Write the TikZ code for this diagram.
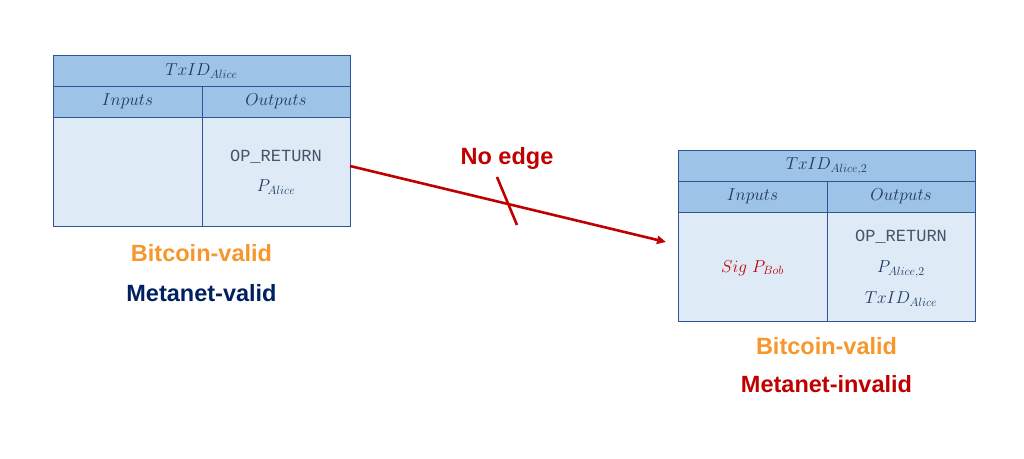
\documentclass[tikz,border=0pt]{standalone}
\usepackage{fontspec}
\newfontfamily\arialf{Liberation Sans}
\newfontfamily\courf{Liberation Mono}
\usetikzlibrary{arrows.meta}
\definecolor{hdrblue}{HTML}{9DC3E6}
\definecolor{bodyblue}{HTML}{DEEBF7}
\definecolor{bord}{HTML}{2F5597}
\definecolor{txtblue}{HTML}{1F3864}
\definecolor{optxt}{HTML}{44546A}
\definecolor{orangec}{HTML}{F7962B}
\definecolor{navyc}{HTML}{002060}
\definecolor{redc}{HTML}{C00000}
\tikzset{
  hdr/.style={fill=hdrblue, draw=bord, line width=1pt},
  bodycell/.style={fill=bodyblue, draw=bord, line width=1pt},
  mtxt/.style={text=txtblue, font=\fontsize{17}{20}\selectfont, inner sep=0pt},
  optx/.style={text=optxt, font=\courf\fontsize{17}{20}\selectfont, inner sep=0pt},
  biglab/.style={font=\arialf\bfseries\fontsize{23.5}{26}\selectfont, inner sep=0pt},
  redline/.style={draw=redc, line width=2.6pt},
}
\begin{document}
\begin{tikzpicture}[x=1pt,y=-1pt]
\useasboundingbox (0,0) rectangle (1024,458);
% left table
\draw[hdr] (53,55) rectangle (350,86);
\draw[hdr] (53,86) rectangle (202,117);
\draw[hdr] (202,86) rectangle (350,117);
\draw[bodycell] (53,117) rectangle (202,226);
\draw[bodycell] (202,117) rectangle (350,226);
\node[mtxt] (l-title) at (201.5,71) {$TxID_{Alice}$};
\node[mtxt] (l-in) at (127.5,101.5) {$Inputs$};
\node[mtxt] (l-out) at (276,101.5) {$Outputs$};
\node[optx] (l-op) at (276,157) {OP\_RETURN};
\node[mtxt] (l-p) at (276,187) {$P_{Alice}$};
\node[biglab, text=orangec] (l-bv) at (201.5,253) {Bitcoin-valid};
\node[biglab, text=navyc] (l-mv) at (201.5,293) {Metanet-valid};
% right table
\draw[hdr] (678,150) rectangle (975,181);
\draw[hdr] (678,181) rectangle (827,212);
\draw[hdr] (827,181) rectangle (975,212);
\draw[bodycell] (678,212) rectangle (827,321);
\draw[bodycell] (827,212) rectangle (975,321);
\node[mtxt] (r-title) at (826.5,166) {$TxID_{Alice,2}$};
\node[mtxt] (r-in) at (752.5,196.5) {$Inputs$};
\node[mtxt] (r-out) at (901,196.5) {$Outputs$};
\node[mtxt, text=redc] (r-sig) at (752.5,268) {$Sig\ P_{Bob}$};
\node[optx] (r-op) at (901,237) {OP\_RETURN};
\node[mtxt] (r-p) at (901,269) {$P_{Alice,2}$};
\node[mtxt] (r-tx) at (901,299) {$TxID_{Alice}$};
\node[biglab, text=orangec] (r-bv) at (826.5,346) {Bitcoin-valid};
\node[biglab, text=redc] (r-mv) at (826.5,384) {Metanet-invalid};
% arrow
\coordinate (a1) at (350,166);
\coordinate (a2) at (666,242);
\draw[redline, -{Triangle[length=9pt,width=8pt]}] (a1) -- (a2);
\coordinate (c1) at (497,177);
\coordinate (c2) at (517,225);
\draw[redline] (c1) -- (c2);
\node[biglab, text=redc] (noedge) at (507,158) {No edge};
\end{tikzpicture}
\end{document}
